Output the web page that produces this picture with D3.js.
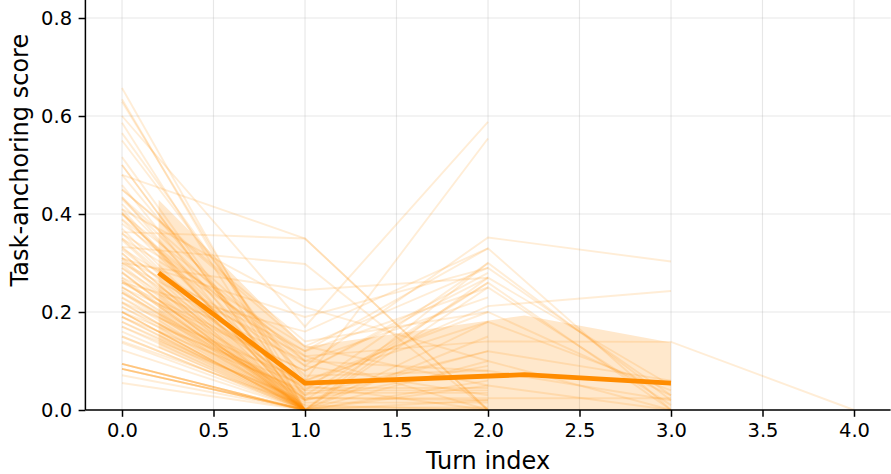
<!DOCTYPE html>
<html>
<head>
<meta charset="utf-8">
<script src="https://cdn.jsdelivr.net/npm/d3@7"></script>
<style>
  html, body { margin: 0; padding: 0; background: #ffffff; }
  svg { display: block; font-family: "DejaVu Sans", sans-serif; }
</style>
</head>
<body>
<svg id="chart" width="891" height="474"></svg>
<script>
// ---------------- DATA ----------------
// Individual conversations: task-anchoring score per turn (turn index = array position)
const trajectories = [
  [0.657, 0.0], [0.634, 0.0], [0.629, 0.02], [0.586, 0.0], [0.565, 0.05],
  [0.516, 0.0], [0.50, 0.0], [0.48, 0.03], [0.459, 0.0], [0.435, 0.0],
  [0.433, 0.10], [0.404, 0.0], [0.402, 0.0], [0.388, 0.02], [0.361, 0.0],
  [0.347, 0.0], [0.333, 0.0], [0.327, 0.04], [0.32, 0.0], [0.306, 0.0],
  [0.296, 0.0], [0.282, 0.0], [0.265, 0.0], [0.265, 0.0], [0.252, 0.0],
  [0.239, 0.0], [0.229, 0.0], [0.218, 0.01], [0.211, 0.0], [0.19, 0.0],
  [0.18, 0.0], [0.17, 0.0], [0.16, 0.0], [0.15, 0.0], [0.137, 0.0],
  [0.122, 0.0], [0.094, 0.0], [0.094, 0.0], [0.094, 0.0], [0.094, 0.0],
  [0.084, 0.0], [0.084, 0.0], [0.084, 0.0], [0.084, 0.0], [0.071, 0.0], [0.055, 0.0],
  [0.41, 0.0], [0.31, 0.0], [0.29, 0.0], [0.245, 0.0], [0.20, 0.0],
  [0.60, 0.17, 0.588], [0.55, 0.06, 0.554], [0.48, 0.35, 0.0], [0.363, 0.35, 0.0],
  [0.333, 0.298, 0.0], [0.30, 0.245, 0.27], [0.41, 0.21, 0.10], [0.31, 0.19, 0.29],
  [0.26, 0.16, 0.33], [0.45, 0.13, 0.05], [0.35, 0.12, 0.25], [0.27, 0.10, 0.23],
  [0.25, 0.08, 0.28], [0.22, 0.06, 0.20], [0.20, 0.05, 0.0], [0.40, 0.03, 0.26],
  [0.37, 0.0, 0.30], [0.32, 0.0, 0.27], [0.28, 0.0, 0.15], [0.24, 0.02, 0.12],
  [0.19, 0.04, 0.04], [0.15, 0.0, 0.02], [0.50, 0.0, 0.06], [0.43, 0.07, 0.08],
  [0.39, 0.09, 0.03], [0.30, 0.11, 0.0], [0.20, 0.0, 0.18], [0.27, 0.0, 0.0],
  [0.17, 0.02, 0.09], [0.21, 0.035, 0.035], [0.18, 0.015, 0.015], [0.14, 0.01, 0.0],
  [0.23, 0.025, 0.02], [0.26, 0.045, 0.045], [0.19, 0.005, 0.005],
  [0.33, 0.09, 0.352, 0.303], [0.29, 0.05, 0.212, 0.243], [0.40, 0.11, 0.14, 0.139, 0.0],
  [0.36, 0.13, 0.29, 0.03], [0.31, 0.12, 0.33, 0.0], [0.42, 0.04, 0.30, 0.02],
  [0.26, 0.08, 0.27, 0.05], [0.22, 0.0, 0.25, 0.01], [0.35, 0.02, 0.26, 0.0],
  [0.30, 0.06, 0.18, 0.04], [0.24, 0.03, 0.12, 0.06], [0.20, 0.0, 0.10, 0.0],
  [0.38, 0.10, 0.08, 0.02], [0.28, 0.0, 0.05, 0.0], [0.45, 0.14, 0.20, 0.03],
  [0.25, 0.024, 0.024, 0.024]
];

// Mean curve and its band
const meanX    = [0.2, 1.0, 2.2, 3.0];
const meanY    = [0.28, 0.055, 0.072, 0.055];
const bandLow  = [0.127, 0.0, 0.0, 0.0];
const bandHigh = [0.429, 0.129, 0.193, 0.138];

const xTicks = [0.0, 0.5, 1.0, 1.5, 2.0, 2.5, 3.0, 3.5, 4.0];
const yTicks = [0.0, 0.2, 0.4, 0.6, 0.8];
const xLabel = "Turn index";
const yLabel = "Task-anchoring score";

// ---------------- LAYOUT ----------------
const svg = d3.select("#chart");
const plotLeft = 85.4, plotRight = 890.6, plotBottom = 410, plotTop = -89.8;
const color = "#ff8c00";

const x = d3.scaleLinear().domain([-0.2, 4.2]).range([plotLeft, plotRight]);
const y = d3.scaleLinear().domain([0, 1.02]).range([plotBottom, plotTop]);

// grid
const grid = svg.append("g");
grid.selectAll(".gx").data(xTicks).enter().append("line")
  .attr("x1", d => x(d)).attr("x2", d => x(d))
  .attr("y1", plotBottom).attr("y2", 0)
  .attr("stroke", "#b0b0b0").attr("stroke-opacity", 0.3).attr("stroke-width", 1.1);
grid.selectAll(".gy").data(yTicks).enter().append("line")
  .attr("x1", plotLeft).attr("x2", plotRight)
  .attr("y1", d => y(d)).attr("y2", d => y(d))
  .attr("stroke", "#b0b0b0").attr("stroke-opacity", 0.3).attr("stroke-width", 1.1);

// individual trajectories
const line = d3.line().x((d, i) => x(i)).y(d => y(d));
svg.append("g").selectAll("path").data(trajectories).enter().append("path")
  .attr("d", line)
  .attr("fill", "none")
  .attr("stroke", color)
  .attr("stroke-opacity", 0.16)
  .attr("stroke-width", 1.9);

// band
const bandData = meanX.map((mx, i) => ({ x: mx, lo: bandLow[i], hi: bandHigh[i] }));
svg.append("path")
  .datum(bandData)
  .attr("d", d3.area().x(d => x(d.x)).y0(d => y(d.lo)).y1(d => y(d.hi)))
  .attr("fill", color)
  .attr("fill-opacity", 0.2);

// mean line
const meanData = meanX.map((mx, i) => ({ x: mx, y: meanY[i] }));
svg.append("path")
  .datum(meanData)
  .attr("d", d3.line().x(d => x(d.x)).y(d => y(d.y)))
  .attr("fill", "none")
  .attr("stroke", color)
  .attr("stroke-width", 4.8)
  .attr("stroke-linejoin", "round");

// axes
const xAxis = d3.axisBottom(x).tickValues(xTicks).tickFormat(d3.format(".1f"))
  .tickSize(6.8).tickPadding(6.5);
const yAxis = d3.axisLeft(y).tickValues(yTicks).tickFormat(d3.format(".1f"))
  .tickSize(6.8).tickPadding(6.5);

const gx = svg.append("g").attr("transform", `translate(0,${plotBottom})`).call(xAxis);
const gy = svg.append("g").attr("transform", `translate(${plotLeft},0)`).call(yAxis);
[gx, gy].forEach(g => {
  g.select(".domain").attr("stroke", "#000").attr("stroke-width", 1.5);
  g.selectAll(".tick line").attr("stroke", "#000").attr("stroke-width", 1.5);
  g.selectAll(".tick text").attr("fill", "#000")
    .style("font-family", "'DejaVu Sans', sans-serif").style("font-size", "19.5px");
});
gx.select(".domain").attr("d", `M${plotLeft},0H${plotRight}`);
gy.select(".domain").attr("d", `M0,${plotBottom}V${plotTop}`);

// axis labels
svg.append("text")
  .attr("x", (plotLeft + plotRight) / 2).attr("y", 469)
  .attr("text-anchor", "middle")
  .style("font-size", "24px").attr("fill", "#000")
  .text(xLabel);
svg.append("text")
  .attr("transform", `translate(28,${(plotBottom + plotTop) / 2}) rotate(-90)`)
  .attr("text-anchor", "middle")
  .style("font-size", "24px").attr("fill", "#000")
  .text(yLabel);
</script>
</body>
</html>
